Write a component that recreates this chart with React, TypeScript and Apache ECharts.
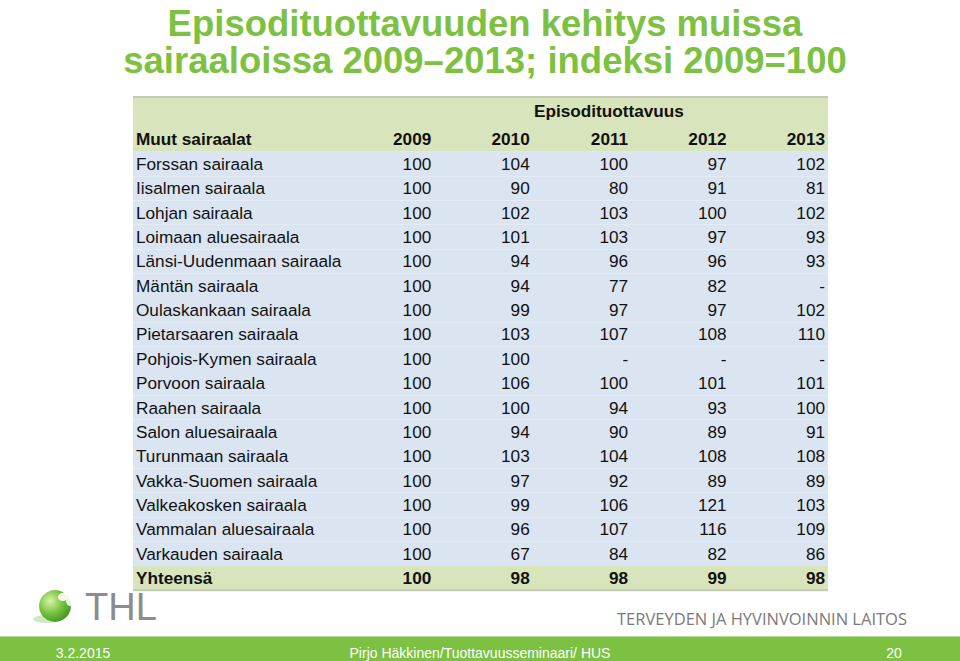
import React, { useEffect, useRef } from 'react';
import * as echarts from 'echarts';

// ---- data ----
const titleLines = ['Episodituottavuuden kehitys muissa', 'sairaaloissa 2009–2013; indeksi 2009=100'];
const groupHeader = 'Episodituottavuus';
const rowHeader = 'Muut sairaalat';
const years = ['2009', '2010', '2011', '2012', '2013'];
const hospitals = [
  'Forssan sairaala',
  'Iisalmen sairaala',
  'Lohjan sairaala',
  'Loimaan aluesairaala',
  'Länsi-Uudenmaan sairaala',
  'Mäntän sairaala',
  'Oulaskankaan sairaala',
  'Pietarsaaren sairaala',
  'Pohjois-Kymen sairaala',
  'Porvoon sairaala',
  'Raahen sairaala',
  'Salon aluesairaala',
  'Turunmaan sairaala',
  'Vakka-Suomen sairaala',
  'Valkeakosken sairaala',
  'Vammalan aluesairaala',
  'Varkauden sairaala',
];
const v2009 = [100, 100, 100, 100, 100, 100, 100, 100, 100, 100, 100, 100, 100, 100, 100, 100, 100];
const v2010 = [104, 90, 102, 101, 94, 94, 99, 103, 100, 106, 100, 94, 103, 97, 99, 96, 67];
const v2011 = [100, 80, 103, 103, 96, 77, 97, 107, null, 100, 94, 90, 104, 92, 106, 107, 84];
const v2012 = [97, 91, 100, 97, 96, 82, 97, 108, null, 101, 93, 89, 108, 89, 121, 116, 82];
const v2013 = [102, 81, 102, 93, 93, null, 102, 110, null, 101, 100, 91, 108, 89, 103, 109, 86];
const totalLabel = 'Yhteensä';
const totals = [100, 98, 98, 99, 98];
const footerDate = '3.2.2015';
const footerCenter = 'Pirjo Häkkinen/Tuottavuusseminaari/ HUS';
const footerPage = '20';
const orgName = 'TERVEYDEN JA HYVINVOINNIN LAITOS';
const logoText = 'THL';

const columns = [v2009, v2010, v2011, v2012, v2013];

// ---- layout constants ----
const X_MIN = -3.03;
const X_MAX = 4.03;
const Y_MIN = -2.75;
const Y_MAX = 17.5;
const FONT = '"Liberation Sans", Arial, sans-serif';
const GREEN = '#d8e4bc';
const BLUE = '#dbe5f1';
const TEXT = '#111111';
const FS = 17.2;

type Row = { kind: 'group' | 'head' | 'row' | 'total'; k: number; pos: number };
const rows: Row[] = [
  { kind: 'group', k: -1, pos: -2.18 },
  { kind: 'head', k: -1, pos: -1.03 },
  ...hospitals.map((_, k) => ({ kind: 'row' as const, k, pos: k })),
  { kind: 'total', k: -1, pos: hospitals.length },
];

const fmt = (v: number | null) => (v === null || v === undefined ? '-' : String(v));

const textEl = (text: string, x: number, y: number, align: string, bold = false) => ({
  type: 'text',
  style: {
    text,
    x,
    y,
    fill: TEXT,
    fontSize: FS,
    fontFamily: FONT,
    fontWeight: bold ? 'bold' : 'normal',
    align,
    verticalAlign: 'middle',
  },
});

const renderItem = (params: any, api: any) => {
  const r = rows[params.dataIndex];
  const children: any[] = [];
  const [xl] = api.coord([X_MIN, 0]);
  const [xr] = api.coord([X_MAX, 0]);
  const cy = api.coord([0, r.pos])[1];
  if (r.kind === 'group') {
    const yt = api.coord([0, Y_MIN])[1];
    const yb = api.coord([0, -0.5])[1];
    children.push({ type: 'rect', shape: { x: xl, y: yt, width: xr - xl, height: yb - yt }, style: { fill: GREEN } });
    children.push({ type: 'rect', shape: { x: xl, y: yt - 1, width: xr - xl, height: 2 }, style: { fill: '#c3cab2' } });
    const gx = api.coord([1.805, 0])[0];
    children.push(textEl(groupHeader, gx, cy, 'center', true));
  } else if (r.kind === 'head') {
    children.push(textEl(rowHeader, xl + 3, cy, 'left', true));
    years.forEach((yr, c) => {
      children.push(textEl(yr, api.coord([c, 0])[0], cy, 'right', true));
    });
  } else {
    const yt = api.coord([0, r.pos - 0.5])[1];
    const yb = api.coord([0, r.pos + 0.5])[1];
    const isTotal = r.kind === 'total';
    children.push({
      type: 'rect',
      shape: { x: xl, y: yt, width: xr - xl, height: yb - yt },
      style: { fill: isTotal ? GREEN : BLUE },
    });
    if (isTotal) {
      children.push({ type: 'rect', shape: { x: xl, y: yb - 1, width: xr - xl, height: 2 }, style: { fill: '#c3cab2' } });
    }
    const label = isTotal ? totalLabel : hospitals[r.k];
    children.push(textEl(label, xl + 3, cy, 'left', isTotal));
    columns.forEach((col, c) => {
      const v = isTotal ? totals[c] : col[r.k];
      children.push(textEl(fmt(v), api.coord([c, 0])[0], cy, 'right', isTotal));
    });
  }
  return { type: 'group', children };
};

export default function App() {
  const ref = useRef<HTMLDivElement>(null);
  useEffect(() => {
    if (!ref.current) return;
    const chart = echarts.init(ref.current, null, { renderer: 'svg' });
    chart.setOption({
      animation: false,
      backgroundColor: '#ffffff',
      title: {
        text: titleLines.join('\n'),
        left: 480,
        top: 0,
        textAlign: 'center',
        textStyle: {
          fontSize: 36.5,
          fontWeight: 'bold',
          fontFamily: FONT,
          color: '#7dc142',
          lineHeight: 37,
        },
      },
      grid: { left: 133, width: 695, top: 97, height: 493.2 },
      xAxis: { type: 'value', min: X_MIN, max: X_MAX, show: false },
      yAxis: { type: 'value', min: Y_MIN, max: Y_MAX, inverse: true, show: false },
      series: [
        {
          type: 'custom',
          renderItem,
          data: rows.map((r) => [0, r.pos]),
          encode: { x: 0, y: 1 },
          silent: true,
        },
      ],
      graphic: [
        { type: 'rect', shape: { x: 0, y: 636, width: 960, height: 1 }, style: { fill: '#b7dc98' } },
        { type: 'rect', shape: { x: 0, y: 637, width: 960, height: 24 }, style: { fill: '#7cc142' } },
        {
          type: 'text',
          style: { text: footerDate, x: 83, y: 653, fill: '#ffffff', fontSize: 14, fontFamily: FONT, align: 'center', verticalAlign: 'middle' },
        },
        {
          type: 'text',
          style: { text: footerCenter, x: 480, y: 653, fill: '#ffffff', fontSize: 14, fontFamily: FONT, align: 'center', verticalAlign: 'middle' },
        },
        {
          type: 'text',
          style: { text: footerPage, x: 894, y: 653, fill: '#ffffff', fontSize: 14, fontFamily: FONT, align: 'center', verticalAlign: 'middle' },
        },
        {
          type: 'text',
          style: { text: orgName, x: 907, y: 618, fill: '#7a7a7a', fontSize: 16.5, fontFamily: '"Open Sans", sans-serif', align: 'right', verticalAlign: 'middle' },
        },
        // logo
        { type: 'ellipse', shape: { cx: 47, cy: 619, rx: 14, ry: 4 }, style: { fill: 'rgba(120,190,80,0.35)' } },
        {
          type: 'circle',
          shape: { cx: 55, cy: 606, r: 16 },
          style: {
            fill: new echarts.graphic.RadialGradient(0.35, 0.35, 0.8, [
              { offset: 0, color: '#d8f5a8' },
              { offset: 0.5, color: '#74c13c' },
              { offset: 1, color: '#2f8a1c' },
            ]),
          },
        },
        { type: 'ellipse', shape: { cx: 63, cy: 597, rx: 5, ry: 4 }, style: { fill: '#ffffff', opacity: 0.9 } },
        { type: 'ellipse', shape: { cx: 70, cy: 601, rx: 4, ry: 5 }, style: { fill: '#ffffff', opacity: 0.85 } },
        { type: 'ellipse', shape: { cx: 68, cy: 593, rx: 4, ry: 3 }, style: { fill: '#ffffff', opacity: 0.85 } },
        {
          type: 'text',
          style: { text: logoText, x: 85, y: 607, fill: '#8c8c8c', fontSize: 38, fontFamily: FONT, align: 'left', verticalAlign: 'middle' },
        },
      ],
    });
    return () => chart.dispose();
  }, []);
  return <div ref={ref} style={{ position: 'fixed', left: 0, top: 0, width: 960, height: 661 }} />;
}
